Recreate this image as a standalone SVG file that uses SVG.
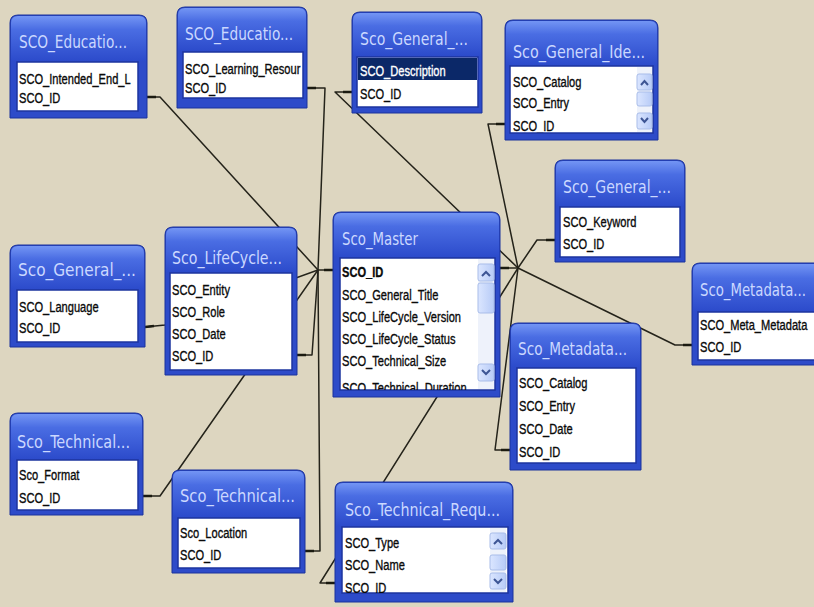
<svg xmlns="http://www.w3.org/2000/svg" width="814" height="607" viewBox="0 0 814 607">
<defs>
<linearGradient id="tb" x1="0" y1="0" x2="0" y2="1">
<stop offset="0" stop-color="#7395f4"/>
<stop offset="0.3" stop-color="#4a6de3"/>
<stop offset="1" stop-color="#2c4bcb"/>
</linearGradient>
<linearGradient id="sb" x1="0" y1="0" x2="1" y2="0">
<stop offset="0" stop-color="#dbe6ff"/>
<stop offset="1" stop-color="#b7cbf7"/>
</linearGradient>
<clipPath id="cpE1"><rect x="17" y="62" width="121" height="49"/></clipPath>
<clipPath id="cpE2"><rect x="183" y="52" width="120" height="46"/></clipPath>
<clipPath id="cpGen"><rect x="510" y="66" width="126" height="67"/></clipPath>
<clipPath id="cpMas"><rect x="340" y="258" width="138" height="132"/></clipPath>
<clipPath id="cpReq"><rect x="342" y="527" width="148" height="66"/></clipPath>
</defs>
<style>
.bg{fill:#ddd6c0}
.frame{fill:#2d4bc9;stroke:#1a329c;stroke-width:1}
.bar{fill:url(#tb)}
.body{fill:#ffffff;stroke:#1c349f;stroke-width:1.5}
.ttl{font-family:'Liberation Sans Narrow','DejaVu Sans Condensed','Liberation Sans',sans-serif;font-size:17px;fill:#cbd8ff}
.it{font-family:'Liberation Sans',Arial,sans-serif;font-size:15px;fill:#0a0a0a;stroke:#0a0a0a;stroke-width:0.35}
.b{font-weight:bold}
.hl{fill:#0b2868}
.w{fill:#ffffff;stroke:#ffffff}
.ln{fill:none;stroke:#24231a;stroke-width:1.5;stroke-linejoin:round}
.stub{fill:none;stroke:#1a1a10;stroke-width:2.5}
.trk{fill:#eef2fb}
.btn{fill:url(#sb);stroke:#a9bde9;stroke-width:1}
.chev{fill:none;stroke:#3d5594;stroke-width:2}
</style>
<rect class="bg" x="0" y="0" width="814" height="607"/>

<g id="connectors">
<polyline class="ln" points="147,97 160,97 318,270"/>
<polyline class="ln" points="307,88 325,88 318,270"/>
<polyline class="ln" points="145,327 165,325 318,270"/>
<polyline class="ln" points="143,496 160,496 318,270"/>
<polyline class="ln" points="297,355 312,355 318,270"/>
<polyline class="ln" points="305,551 320,551 318,270"/>
<polyline class="ln" points="318,270 333,270"/>
<polyline class="ln" points="500,268 518,268"/>
<polyline class="ln" points="352,92 335,92 518,268"/>
<polyline class="ln" points="505,124 488,124 518,268"/>
<polyline class="ln" points="555,240 537,240 518,268"/>
<polyline class="ln" points="692,345 675,345 518,268"/>
<polyline class="ln" points="510,450 495,450 518,268"/>
<polyline class="ln" points="335,583 320,583 518,268"/>
<g class="stub">
<line x1="147" y1="97" x2="156" y2="97"/><line x1="307" y1="88" x2="316" y2="88"/>
<line x1="145" y1="327" x2="154" y2="326"/><line x1="143" y1="496" x2="152" y2="496"/>
<line x1="297" y1="355" x2="306" y2="355"/><line x1="305" y1="551" x2="314" y2="551"/>
<line x1="324" y1="270" x2="333" y2="270"/><line x1="500" y1="268" x2="509" y2="268"/>
<line x1="352" y1="92" x2="343" y2="92"/><line x1="505" y1="124" x2="496" y2="124"/>
<line x1="555" y1="240" x2="546" y2="240"/><line x1="692" y1="345" x2="683" y2="345"/>
<line x1="510" y1="450" x2="501" y2="450"/><line x1="335" y1="583" x2="326" y2="583"/>
</g>
</g>

<g id="edu1">
<path class="frame" d="M10,23 Q10,15 18,15 H139 Q147,15 147,23 V118 H10 Z"/>
<path class="bar" d="M11,23 Q11,16 18,16 H139 Q146,16 146,23 V61 H11 Z"/>
<rect class="body" x="17" y="62" width="121" height="49"/>
<text class="ttl" x="19" y="48" textLength="108" lengthAdjust="spacingAndGlyphs">SCO_Educatio...</text>
<g clip-path="url(#cpE1)"><g transform="translate(19,0) scale(0.74,1)">
<text class="it" x="0" y="84">SCO_Intended_End_L</text>
<text class="it" x="0" y="103">SCO_ID</text>
</g></g>
</g>

<g id="edu2">
<path class="frame" d="M177,15 Q177,7 185,7 H299 Q307,7 307,15 V108 H177 Z"/>
<path class="bar" d="M178,15 Q178,8 185,8 H299 Q306,8 306,15 V51 H178 Z"/>
<rect class="body" x="183" y="52" width="120" height="46"/>
<text class="ttl" x="185" y="40" textLength="108" lengthAdjust="spacingAndGlyphs">SCO_Educatio...</text>
<g clip-path="url(#cpE2)"><g transform="translate(185,0) scale(0.74,1)">
<text class="it" x="0" y="74">SCO_Learning_Resour</text>
<text class="it" x="0" y="93">SCO_ID</text>
</g></g>
</g>

<g id="desc">
<path class="frame" d="M352,20 Q352,12 360,12 H474 Q482,12 482,20 V113 H352 Z"/>
<path class="bar" d="M353,20 Q353,13 360,13 H474 Q481,13 481,20 V56 H353 Z"/>
<rect class="body" x="357" y="57" width="121" height="50"/>
<rect class="hl" x="358" y="58" width="119" height="22"/>
<text class="ttl" x="360" y="45" textLength="108" lengthAdjust="spacingAndGlyphs">Sco_General_...</text>
<g transform="translate(360,0) scale(0.74,1)">
<text class="it w" x="0" y="76">SCO_Description</text>
<text class="it" x="0" y="99">SCO_ID</text>
</g>
</g>

<g id="genide">
<path class="frame" d="M505,28 Q505,20 513,20 H650 Q658,20 658,28 V140 H505 Z"/>
<path class="bar" d="M506,28 Q506,21 513,21 H650 Q657,21 657,28 V65 H506 Z"/>
<rect class="body" x="510" y="66" width="143" height="67"/>
<text class="ttl" x="513" y="58" textLength="132" lengthAdjust="spacingAndGlyphs">Sco_General_Ide...</text>
<g clip-path="url(#cpGen)"><g transform="translate(513,0) scale(0.74,1)">
<text class="it" x="0" y="87">SCO_Catalog</text>
<text class="it" x="0" y="108">SCO_Entry</text>
<text class="it" x="0" y="131">SCO_ID</text>
</g></g>
<rect class="trk" x="637" y="67" width="15" height="65"/>
<rect class="btn" x="637" y="74" width="15" height="16" rx="2"/>
<path class="chev" d="M641,85 L644.5,81 L648,85"/>
<rect class="btn" x="637" y="92" width="15" height="14" rx="2"/>
<rect class="btn" x="637" y="113" width="15" height="16" rx="2"/>
<path class="chev" d="M641,118 L644.5,122 L648,118"/>
</g>

<g id="keyword">
<path class="frame" d="M555,168 Q555,160 563,160 H677 Q685,160 685,168 V262 H555 Z"/>
<path class="bar" d="M556,168 Q556,161 563,161 H677 Q684,161 684,168 V206 H556 Z"/>
<rect class="body" x="560" y="207" width="120" height="50"/>
<text class="ttl" x="563" y="193" textLength="108" lengthAdjust="spacingAndGlyphs">Sco_General_...</text>
<g transform="translate(563,0) scale(0.74,1)">
<text class="it" x="0" y="227">SCO_Keyword</text>
<text class="it" x="0" y="249">SCO_ID</text>
</g>
</g>

<g id="metameta">
<path class="frame" d="M692,271 Q692,263 700,263 H814 Q822,263 822,271 V365 H692 Z"/>
<path class="bar" d="M693,271 Q693,264 700,264 H814 Q821,264 821,271 V311 H693 Z"/>
<rect class="body" x="698" y="312" width="124" height="48"/>
<text class="ttl" x="700" y="296" textLength="106" lengthAdjust="spacingAndGlyphs">Sco_Metadata...</text>
<g transform="translate(700,0) scale(0.74,1)">
<text class="it" x="0" y="330">SCO_Meta_Metadata</text>
<text class="it" x="0" y="352">SCO_ID</text>
</g>
</g>

<g id="language">
<path class="frame" d="M10,253 Q10,245 18,245 H137 Q145,245 145,253 V347 H10 Z"/>
<path class="bar" d="M11,253 Q11,246 18,246 H137 Q144,246 144,253 V289 H11 Z"/>
<rect class="body" x="17" y="290" width="121" height="52"/>
<text class="ttl" x="18" y="276" textLength="118" lengthAdjust="spacingAndGlyphs">Sco_General_...</text>
<g transform="translate(19,0) scale(0.74,1)">
<text class="it" x="0" y="312">SCO_Language</text>
<text class="it" x="0" y="333">SCO_ID</text>
</g>
</g>

<g id="lifecycle">
<path class="frame" d="M165,235 Q165,227 173,227 H289 Q297,227 297,235 V375 H165 Z"/>
<path class="bar" d="M166,235 Q166,228 173,228 H289 Q296,228 296,235 V272 H166 Z"/>
<rect class="body" x="170" y="273" width="122" height="97"/>
<text class="ttl" x="172" y="264" textLength="110" lengthAdjust="spacingAndGlyphs">Sco_LifeCycle...</text>
<g transform="translate(172,0) scale(0.74,1)">
<text class="it" x="0" y="295">SCO_Entity</text>
<text class="it" x="0" y="317">SCO_Role</text>
<text class="it" x="0" y="339">SCO_Date</text>
<text class="it" x="0" y="361">SCO_ID</text>
</g>
</g>

<g id="master">
<path class="frame" d="M333,220 Q333,212 341,212 H492 Q500,212 500,220 V397 H333 Z"/>
<path class="bar" d="M334,220 Q334,213 341,213 H492 Q499,213 499,220 V257 H334 Z"/>
<rect class="body" x="340" y="258" width="155" height="132"/>
<text class="ttl" x="342" y="245" textLength="76" lengthAdjust="spacingAndGlyphs">Sco_Master</text>
<g clip-path="url(#cpMas)"><g transform="translate(342,0) scale(0.74,1)">
<text class="it b" x="0" y="277">SCO_ID</text>
<text class="it" x="0" y="300">SCO_General_Title</text>
<text class="it" x="0" y="322">SCO_LifeCycle_Version</text>
<text class="it" x="0" y="344">SCO_LifeCycle_Status</text>
<text class="it" x="0" y="366">SCO_Technical_Size</text>
<text class="it" x="0" y="393">SCO_Technical_Duration</text>
</g></g>
<rect class="trk" x="478" y="259" width="16" height="130"/>
<rect class="btn" x="478" y="264" width="16" height="17" rx="2"/>
<path class="chev" d="M482,276 L486,272 L490,276"/>
<rect class="btn" x="478" y="283" width="16" height="30" rx="2"/>
<rect class="btn" x="478" y="364" width="16" height="17" rx="2"/>
<path class="chev" d="M482,370 L486,374 L490,370"/>
</g>

<g id="metadata">
<path class="frame" d="M510,331 Q510,323 518,323 H633 Q641,323 641,331 V470 H510 Z"/>
<path class="bar" d="M511,331 Q511,324 518,324 H633 Q640,324 640,331 V367 H511 Z"/>
<rect class="body" x="517" y="368" width="119" height="95"/>
<text class="ttl" x="518" y="355" textLength="109" lengthAdjust="spacingAndGlyphs">Sco_Metadata...</text>
<g transform="translate(519,0) scale(0.74,1)">
<text class="it" x="0" y="388">SCO_Catalog</text>
<text class="it" x="0" y="411">SCO_Entry</text>
<text class="it" x="0" y="434">SCO_Date</text>
<text class="it" x="0" y="457">SCO_ID</text>
</g>
</g>

<g id="format">
<path class="frame" d="M10,421 Q10,413 18,413 H135 Q143,413 143,421 V515 H10 Z"/>
<path class="bar" d="M11,421 Q11,414 18,414 H135 Q142,414 142,421 V459 H11 Z"/>
<rect class="body" x="17" y="460" width="121" height="50"/>
<text class="ttl" x="17" y="448" textLength="113" lengthAdjust="spacingAndGlyphs">Sco_Technical...</text>
<g transform="translate(19,0) scale(0.74,1)">
<text class="it" x="0" y="480">Sco_Format</text>
<text class="it" x="0" y="503">SCO_ID</text>
</g>
</g>

<g id="location">
<path class="frame" d="M172,478 Q172,470 180,470 H297 Q305,470 305,478 V573 H172 Z"/>
<path class="bar" d="M173,478 Q173,471 180,471 H297 Q304,471 304,478 V517 H173 Z"/>
<rect class="body" x="178" y="518" width="122" height="50"/>
<text class="ttl" x="180" y="502" textLength="115" lengthAdjust="spacingAndGlyphs">Sco_Technical...</text>
<g transform="translate(180,0) scale(0.74,1)">
<text class="it" x="0" y="538">Sco_Location</text>
<text class="it" x="0" y="560">SCO_ID</text>
</g>
</g>

<g id="techreq">
<path class="frame" d="M335,490 Q335,482 343,482 H505 Q513,482 513,490 V602 H335 Z"/>
<path class="bar" d="M336,490 Q336,483 343,483 H505 Q512,483 512,490 V526 H336 Z"/>
<rect class="body" x="342" y="527" width="166" height="66"/>
<text class="ttl" x="345" y="516" textLength="155" lengthAdjust="spacingAndGlyphs">Sco_Technical_Requ...</text>
<g clip-path="url(#cpReq)"><g transform="translate(345,0) scale(0.74,1)">
<text class="it" x="0" y="548">SCO_Type</text>
<text class="it" x="0" y="570">SCO_Name</text>
<text class="it" x="0" y="593">SCO_ID</text>
</g></g>
<rect class="trk" x="490" y="528" width="16" height="64"/>
<rect class="btn" x="490" y="533" width="16" height="16" rx="2"/>
<path class="chev" d="M494,544 L498,540 L502,544"/>
<rect class="btn" x="490" y="555" width="16" height="15" rx="2"/>
<rect class="btn" x="490" y="573" width="16" height="16" rx="2"/>
<path class="chev" d="M494,579 L498,583 L502,579"/>
</g>
</svg>
